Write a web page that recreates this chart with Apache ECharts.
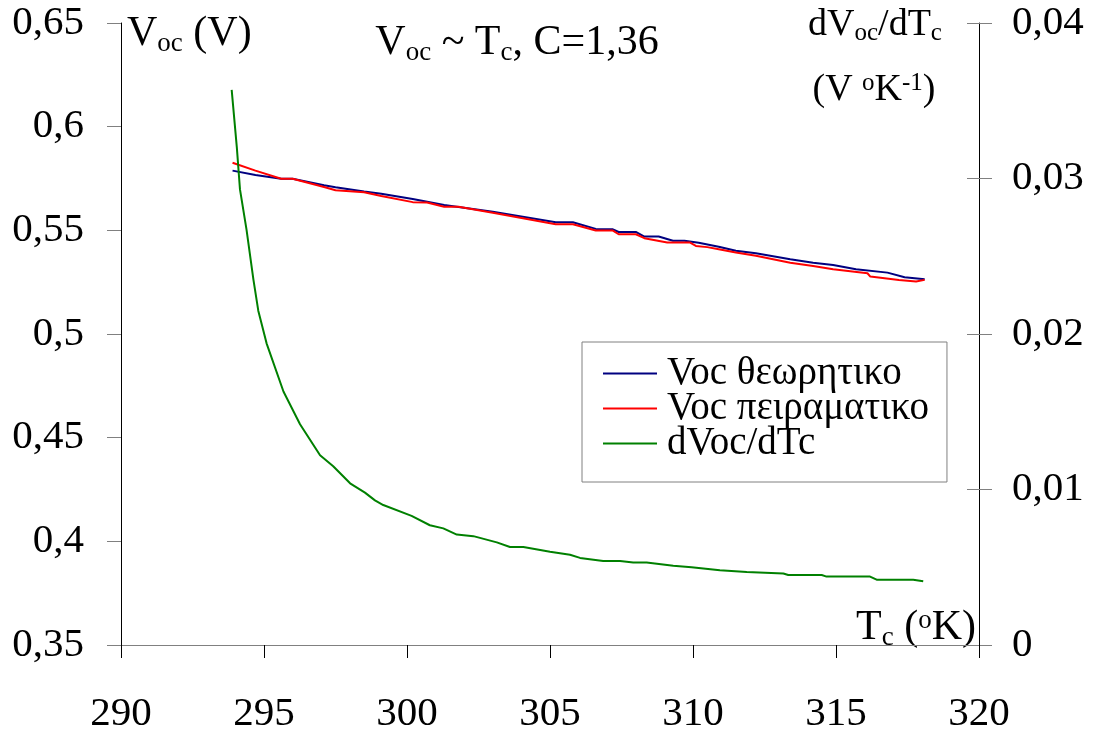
<!DOCTYPE html>
<html>
<head>
<meta charset="utf-8">
<script src="https://cdn.jsdelivr.net/npm/echarts@6/dist/echarts.min.js"></script>
<style>
  html, body { margin: 0; padding: 0; background: #fff; }
  #chart { width: 1095px; height: 736px; }
</style>
</head>
<body>
<div id="chart"></div>
<script>
// Voc θεωρητικο (left axis)
const tempTheory = [293.9, 294.7, 295.6, 296.0, 297.1, 297.5, 298.5, 299.1, 300.2, 301.3, 303.0, 305.2, 305.8, 306.6, 307.2, 307.4, 308.0, 308.3, 308.8, 309.3, 309.7, 310.2, 310.9, 311.5, 312.2, 313.4, 314.2, 314.9, 315.7, 316.8, 317.4, 318.1]
const vocTheory = [0.5788, 0.5767, 0.5749, 0.5749, 0.5717, 0.5708, 0.5687, 0.5676, 0.5651, 0.5622, 0.5590, 0.5539, 0.5539, 0.5507, 0.5505, 0.5492, 0.5492, 0.5470, 0.5470, 0.5450, 0.5450, 0.5440, 0.5421, 0.5402, 0.5390, 0.5361, 0.5344, 0.5333, 0.5312, 0.5296, 0.5274, 0.5264]

// Voc πειραματικο (left axis)
const tempExp = [293.9, 294.7, 295.6, 296.0, 297.1, 297.5, 298.5, 299.1, 300.2, 300.7, 301.3, 301.8, 303.0, 305.2, 305.8, 306.6, 307.2, 307.4, 308.0, 308.3, 309.1, 309.9, 310.1, 310.5, 310.9, 311.5, 312.2, 313.4, 314.2, 314.9, 316.1, 316.2, 317.2, 317.8, 318.1]
const vocExp = [0.5826, 0.5788, 0.5749, 0.5749, 0.5709, 0.5693, 0.5684, 0.5666, 0.5636, 0.5634, 0.5614, 0.5614, 0.5585, 0.5529, 0.5529, 0.5499, 0.5499, 0.5481, 0.5481, 0.5462, 0.5441, 0.5441, 0.5425, 0.5419, 0.5409, 0.5393, 0.5377, 0.5344, 0.5328, 0.5312, 0.5293, 0.5277, 0.5261, 0.5253, 0.5261]

// dVoc/dTc (right axis)
const tempDeriv = [293.87, 294.05, 294.16, 294.39, 294.63, 294.80, 295.09, 295.68, 296.26, 296.96, 297.42, 298.01, 298.53, 298.88, 299.17, 300.16, 300.80, 301.27, 301.74, 302.32, 303.14, 303.60, 304.07, 305.00, 305.70, 306.05, 306.86, 307.45, 307.91, 308.38, 309.31, 309.95, 310.94, 311.88, 313.16, 313.33, 314.50, 314.67, 314.91, 316.19, 316.42, 317.70, 318.05]
const dVdT = [0.0357, 0.0320, 0.0293, 0.0267, 0.0235, 0.0215, 0.0194, 0.0163, 0.0142, 0.0122, 0.0115, 0.0104, 0.0098, 0.0093, 0.0090, 0.0083, 0.0077, 0.0075, 0.0071, 0.0070, 0.0066, 0.0063, 0.0063, 0.0060, 0.0058, 0.0056, 0.0054, 0.0054, 0.0053, 0.0053, 0.0051, 0.0050, 0.0048, 0.0047, 0.0046, 0.0045, 0.0045, 0.0044, 0.0044, 0.0044, 0.0042, 0.0042, 0.0041]

const seriesNames = ['Voc θεωρητικο', 'Voc πειραματικο', 'dVoc/dTc']

const FONT = 'Liberation Serif'
const comma = v => String(+v.toFixed(4)).replace('.', ',')
const pairs = (xs, ys) => xs.map((x, i) => [x, ys[i]])

// rich text styles for sub/superscripts
const rich = size => ({
    m: { fontFamily: FONT, fontSize: size, color: '#000', padding: [0, 0, 2, 0] },
    s: { fontFamily: FONT, fontSize: Math.round(size * 0.65), color: '#000', verticalAlign: 'bottom' },
    p: { fontFamily: FONT, fontSize: Math.round(size * 0.65), color: '#000', verticalAlign: 'top' }
})

const chart = echarts.init(document.getElementById('chart'))

const option = {
    backgroundColor: '#fff',
    animation: false,
    grid: { left: 121, right: 116, top: 23, bottom: 91, containLabel: false, outerBoundsMode: 'none' },
    legend: {
        orient: 'vertical',
        left: 582,
        top: 342,
        padding: [12, 18, 19, 21],
        borderColor: '#808080',
        borderWidth: 1,
        itemWidth: 54,
        itemHeight: 14,
        itemGap: -4,
        icon: 'path://M0,6L54,6L54,8L0,8Z',
        textStyle: { fontFamily: FONT, fontSize: 39, color: '#000', padding: [0, 0, 0, 5] },
        data: seriesNames
    },
    xAxis: {
        type: 'value',
        min: 290,
        max: 320,
        interval: 5,
        splitLine: { show: false },
        axisLine: { onZero: false, lineStyle: { color: '#808080', width: 1 } },
        axisTick: { length: 13, lineStyle: { color: '#000' } },
        axisLabel: { margin: 49, fontFamily: FONT, fontSize: 41, color: '#000' }
    },
    yAxis: [
        {
            type: 'value',
            position: 'left',
            min: 0.35,
            max: 0.65,
            interval: 0.05,
            splitLine: { show: false },
            axisLine: { show: true, lineStyle: { color: '#000' } },
            axisTick: { show: true, length: 14, lineStyle: { color: '#808080' } },
            axisLabel: { margin: 37, fontFamily: FONT, fontSize: 41, color: '#000', formatter: comma }
        },
        {
            type: 'value',
            position: 'right',
            min: 0,
            max: 0.04,
            interval: 0.01,
            splitLine: { show: false },
            axisLine: { show: true, lineStyle: { color: '#000' } },
            axisTick: { show: true, length: 13, lineStyle: { color: '#808080' } },
            axisLabel: { margin: 33, fontFamily: FONT, fontSize: 41, color: '#000', formatter: comma }
        },
        {
            // inner half of the crossing ticks on the right axis
            type: 'value',
            position: 'right',
            min: 0,
            max: 0.04,
            interval: 0.01,
            splitLine: { show: false },
            axisLine: { show: false },
            axisTick: { show: true, inside: true, length: 12, lineStyle: { color: '#808080' } },
            axisLabel: { show: false }
        }
    ],
    graphic: [
        {
            type: 'text', x: 127, y: 57,
            style: { text: '{m|V}{s|oc}{m| (V)}', rich: rich(42), verticalAlign: 'bottom', align: 'left' }
        },
        {
            type: 'text', x: 517, y: 66,
            style: { text: '{m|V}{s|oc}{m| ~ T}{s|c}{m|, C=1,36}', rich: rich(42), verticalAlign: 'bottom', align: 'center' }
        },
        {
            type: 'text', x: 875, y: 46,
            style: { text: '{m|dV}{s|oc}{m|/dT}{s|c}', rich: rich(38), verticalAlign: 'bottom', align: 'center' }
        },
        {
            type: 'text', x: 874, y: 111,
            style: { text: '{m|(V }{p|o}{m|K}{p|-1}{m|)}', rich: rich(38), verticalAlign: 'bottom', align: 'center' }
        },
        {
            type: 'text', x: 976, y: 651,
            style: { text: '{m|T}{s|c}{m| (}{p|o}{m|K)}', rich: rich(42), verticalAlign: 'bottom', align: 'right' }
        }
    ],
    series: [
        {
            name: seriesNames[0],
            type: 'line',
            yAxisIndex: 0,
            showSymbol: false,
            symbol: 'none',
            lineStyle: { color: '#000080', width: 2 },
            itemStyle: { color: '#000080' },
            data: pairs(tempTheory, vocTheory)
        },
        {
            name: seriesNames[1],
            type: 'line',
            yAxisIndex: 0,
            showSymbol: false,
            symbol: 'none',
            lineStyle: { color: '#ff0000', width: 2 },
            itemStyle: { color: '#ff0000' },
            data: pairs(tempExp, vocExp)
        },
        {
            name: seriesNames[2],
            type: 'line',
            yAxisIndex: 1,
            showSymbol: false,
            symbol: 'none',
            lineStyle: { color: '#008000', width: 2 },
            itemStyle: { color: '#008000' },
            data: pairs(tempDeriv, dVdT)
        }
    ]
}

chart.setOption(option)
</script>
</body>
</html>
